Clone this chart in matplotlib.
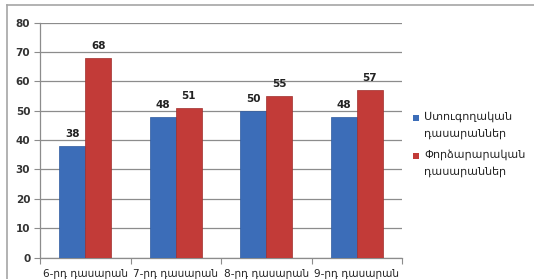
import matplotlib
matplotlib.use("Agg")
import matplotlib.pyplot as plt
import numpy as np
from matplotlib.lines import Line2D
from matplotlib.patches import Rectangle

categories = ["6-րդ դասարան", "7-րդ դասարան", "8-րդ դասարան", "9-րդ դասարան"]
control = [38, 48, 50, 48]
experimental = [68, 51, 55, 57]
series_names = ["Ստուգողական\nդասարաններ", "Փորձարարական\nդասարաններ"]
yticks = [0, 10, 20, 30, 40, 50, 60, 70, 80]

blue = "#3C6DB8"
red = "#C23B38"

W, H = 534, 279
fig = plt.figure(figsize=(W/100, H/100), dpi=100)
ax = fig.add_axes([40/W, 1-257.5/H, 362/W, (257.5-22.7)/H])

x = np.arange(len(categories))
w = 0.29
b1 = ax.bar(x - w/2, control, w, color=blue, edgecolor="#2E5A9E", linewidth=0.5, zorder=3)
b2 = ax.bar(x + w/2, experimental, w, color=red, edgecolor="#A02E2C", linewidth=0.5, zorder=3)

for bars, vals in ((b1, control), (b2, experimental)):
    for rect, v in zip(bars, vals):
        ax.text(rect.get_x() + rect.get_width()/2, v + 2.3, str(v), ha="center", va="bottom",
                fontsize=7.5, fontweight="bold", color="#222222")

ax.set_xlim(-0.5, len(categories) - 0.5)
ax.set_ylim(0, 80)
ax.set_yticks(yticks)
ax.set_yticklabels([str(t) for t in yticks], fontsize=7.5, fontweight="bold", color="#333333")
ax.yaxis.grid(True, color="#8C8C8C", linewidth=0.9, zorder=0)
ax.set_axisbelow(True)

ax.set_xticks(np.arange(len(categories) + 1) - 0.5)
ax.set_xticklabels([])
ax.set_xticks(x, minor=True)
ax.set_xticklabels(categories, minor=True, fontsize=7.6, color="#222222")
ax.tick_params(axis="x", which="minor", length=0, pad=8)
ax.tick_params(axis="x", which="major", length=4, color="#8C8C8C", direction="out")
ax.tick_params(axis="y", length=4, color="#8C8C8C", pad=3)

for s in ["top", "right"]:
    ax.spines[s].set_visible(False)
for s in ["left", "bottom"]:
    ax.spines[s].set_color("#8C8C8C")
    ax.spines[s].set_linewidth(0.9)

# legend (manual, squares aligned to first text line)
for i, (name, col) in enumerate(zip(series_names, [blue, red])):
    ytop = 118 + i * 38
    fig.add_artist(Rectangle((413/W, 1-(ytop+3)/H), 6/W, 6/H, facecolor=col,
                             edgecolor="none", transform=fig.transFigure))
    fig.text(424/W, 1-(ytop-7)/H, name, fontsize=8, color="#222222", va="top", ha="left",
             linespacing=1.75)

# outer chart border
fig.add_artist(Line2D([7/W, 7/W], [0, 1-5/H], color="#A6A6A6", linewidth=1.2))
fig.add_artist(Line2D([7/W, 1], [1-5/H, 1-5/H], color="#A6A6A6", linewidth=1.2))

fig.savefig("out.png", dpi=100)
